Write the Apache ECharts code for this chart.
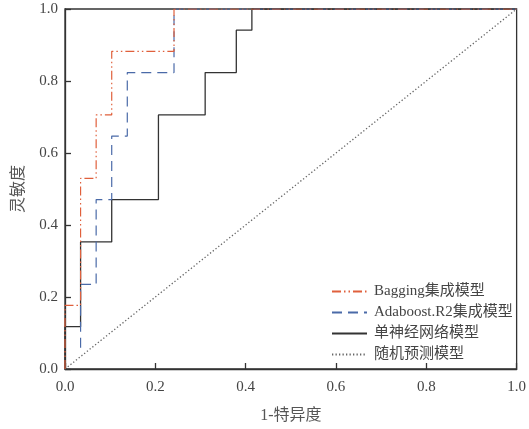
<!DOCTYPE html>
<html><head><meta charset="utf-8">
<script src="https://cdn.jsdelivr.net/npm/echarts@6/dist/echarts.min.js"></script>
<style>html,body{margin:0;padding:0;background:#fff}#c{width:529px;height:429px}</style>
</head><body><div id="c"></div>
<script>
// Data (ROC curves: 1-specificity, sensitivity)
const seriesNames = ['Bagging集成模型', 'Adaboost.R2集成模型', '单神经网络模型', '随机预测模型'];
const baggingFPR = [0, 0, 1/29, 1/29, 2/29, 2/29, 3/29, 3/29, 7/29, 7/29, 1];
const baggingTPR = [0, 3/17, 3/17, 9/17, 9/17, 12/17, 12/17, 15/17, 15/17, 1, 1];
const adaboostFPR = [1/29, 1/29, 2/29, 2/29, 3/29, 3/29, 4/29, 4/29, 7/29, 7/29, 1];
const adaboostTPR = [1/17, 4/17, 4/17, 8/17, 8/17, 11/17, 11/17, 14/17, 14/17, 1, 1];
const annFPR = [0, 0, 1/29, 1/29, 3/29, 3/29, 6/29, 6/29, 9/29, 9/29, 11/29, 11/29, 12/29, 12/29, 1];
const annTPR = [0, 2/17, 2/17, 6/17, 6/17, 8/17, 8/17, 12/17, 12/17, 14/17, 14/17, 16/17, 16/17, 1, 1];
const randomFPR = [0, 1];
const randomTPR = [0, 1];
const xTicks = [0, 0.2, 0.4, 0.6, 0.8, 1.0];
const yTicks = [0, 0.2, 0.4, 0.6, 0.8, 1.0];
const xName = '1-特异度';
const yName = '灵敏度';

const zip = (a, b) => a.map((v, i) => [v, b[i]]);
const FONT = 'Liberation Serif, Noto Sans CJK SC, serif';
const chart = echarts.init(document.getElementById('c'), null, {renderer: 'canvas'});
const axisCommon = {
  type: 'value', min: 0, max: 1, interval: 0.2,
  axisLine: {show: true, lineStyle: {color: '#333', width: 1.3}},
  axisTick: {show: true, inside: true, length: 6, lineStyle: {color: '#333', width: 1.3}},
  splitLine: {show: false},
  nameLocation: 'middle',
  nameTextStyle: {fontFamily: FONT, fontSize: 16, color: '#555'}
};
chart.setOption({
  animation: false,
  backgroundColor: '#fff',
  grid: {left: 65, right: 8, top: 9, bottom: 53, show: true, borderColor: '#333', borderWidth: 1.3, containLabel: false},
  xAxis: Object.assign({}, axisCommon, {
    name: xName, nameGap: 39,
    axisLabel: {margin: 11, fontFamily: FONT, fontSize: 15, color: '#444', formatter: v => xTicks.includes(+v.toFixed(1)) ? v.toFixed(1) : ''}
  }),
  yAxis: Object.assign({}, axisCommon, {
    name: yName, nameGap: 38,
    axisLabel: {margin: 7, fontFamily: FONT, fontSize: 15, color: '#444', formatter: v => yTicks.includes(+v.toFixed(1)) ? v.toFixed(1) : ''}
  }),
  legend: {
    show: true, orient: 'vertical', left: 326, top: 279, itemWidth: 35, itemHeight: 14, itemGap: 6,
    itemStyle: {opacity: 0},
    textStyle: {fontFamily: FONT, fontSize: 15, color: '#444', padding: [0, 0, 0, 2]},
    data: seriesNames
  },
  series: [
    {name: seriesNames[0], type: 'line', data: zip(baggingFPR, baggingTPR), symbol: 'none', z: 4,
      lineStyle: {color: '#e0603c', width: 1.2, type: [9, 3, 1.5, 3, 1.5, 3]}, itemStyle: {color: '#e0603c'}},
    {name: seriesNames[1], type: 'line', data: zip(adaboostFPR, adaboostTPR), symbol: 'none', z: 3,
      lineStyle: {color: '#4a6aa8', width: 1.2, type: [10, 6]}, itemStyle: {color: '#4a6aa8'}},
    {name: seriesNames[2], type: 'line', data: zip(annFPR, annTPR), symbol: 'none', z: 2,
      lineStyle: {color: '#333', width: 1.3, type: 'solid'}, itemStyle: {color: '#333'}},
    {name: seriesNames[3], type: 'line', data: zip(randomFPR, randomTPR), symbol: 'none', z: 1,
      lineStyle: {color: '#666', width: 1.3, type: [1.3, 2.2]}, itemStyle: {color: '#666'}}
  ]
});
</script></body></html>
